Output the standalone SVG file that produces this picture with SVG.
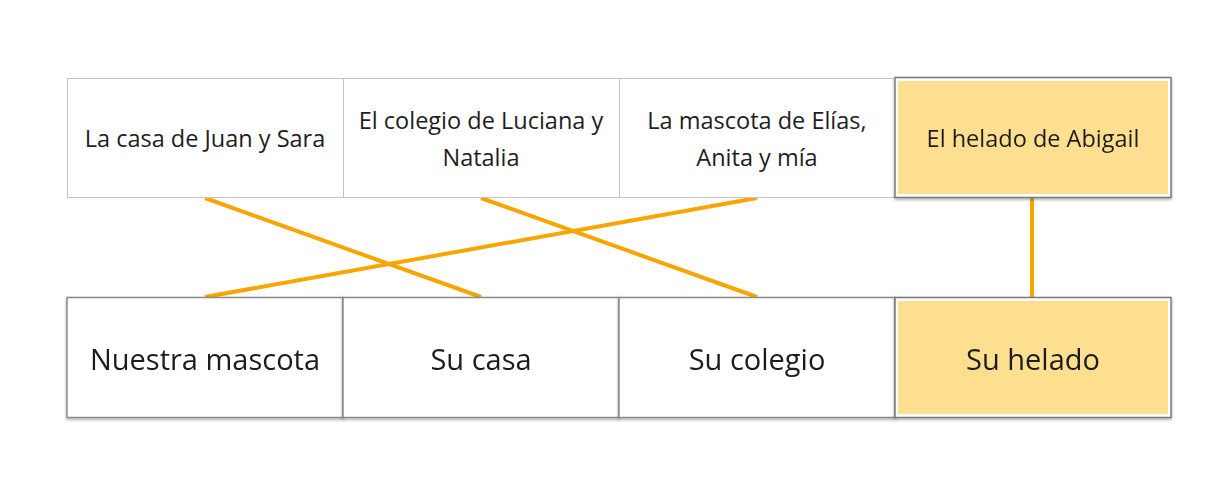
<svg xmlns="http://www.w3.org/2000/svg" width="1231" height="487" viewBox="0 0 1231 487">
<style>
.t{font-family:"Open Sans","Noto Sans","Liberation Sans",sans-serif;fill:#1e1e1e;text-anchor:middle;font-weight:500}
.s{font-size:23.5px}
.b{font-size:29px}
.top{fill:#fff;stroke:#c4c4c4;stroke-width:1}
.bot{fill:#fff;stroke:#8a8a8a;stroke-width:1.5}
.hl{fill:#fff;stroke:#7a7a7a;stroke-width:1.5}
.fill{fill:#fddf8f}
.c{stroke:#f8a500;stroke-width:4;fill:none}
</style>
<defs>
<filter id="sh" x="-5%" y="-10%" width="110%" height="125%">
<feDropShadow dx="0" dy="1.5" stdDeviation="1.5" flood-color="#000" flood-opacity="0.35"/>
</filter>
</defs>
<rect width="1231" height="487" fill="#fff"/>
<g id="connectors">
<line class="c" x1="205" y1="198" x2="481" y2="297"/>
<line class="c" x1="481" y1="198" x2="757" y2="297"/>
<line class="c" x1="757" y1="198" x2="205" y2="297"/>
<line class="c" x1="1032" y1="198" x2="1032" y2="297"/>
</g>
<g id="n1"><rect class="top" x="67.5" y="78.5" width="276" height="119"/><text class="t s" x="205" y="147">La casa de Juan y Sara</text></g>
<g id="n2"><rect class="top" x="343.5" y="78.5" width="276" height="119"/><text class="t s" x="481" y="129">El colegio de Luciana y</text><text class="t s" x="481" y="166">Natalia</text></g>
<g id="n3"><rect class="top" x="619.5" y="78.5" width="276" height="119"/><text class="t s" x="757" y="129">La mascota de Elías,</text><text class="t s" x="757" y="166">Anita y mía</text></g>
<g id="n4" filter="url(#sh)"><rect class="hl" x="895" y="77.5" width="276" height="120"/><rect class="fill" x="898" y="81" width="270" height="113"/><text class="t s" x="1033" y="147">El helado de Abigail</text></g>
<g id="m1" filter="url(#sh)"><rect class="bot" x="67" y="297.5" width="276" height="120"/><text class="t b" x="205" y="370">Nuestra mascota</text></g>
<g id="m2" filter="url(#sh)"><rect class="bot" x="343" y="297.5" width="276" height="120"/><text class="t b" x="481" y="370">Su casa</text></g>
<g id="m3" filter="url(#sh)"><rect class="bot" x="619" y="297.5" width="276" height="120"/><text class="t b" x="757" y="370">Su colegio</text></g>
<g id="m4" filter="url(#sh)"><rect class="hl" x="895" y="297.5" width="276" height="120"/><rect class="fill" x="898" y="301" width="270" height="113"/><text class="t b" x="1033" y="370">Su helado</text></g>
</svg>
